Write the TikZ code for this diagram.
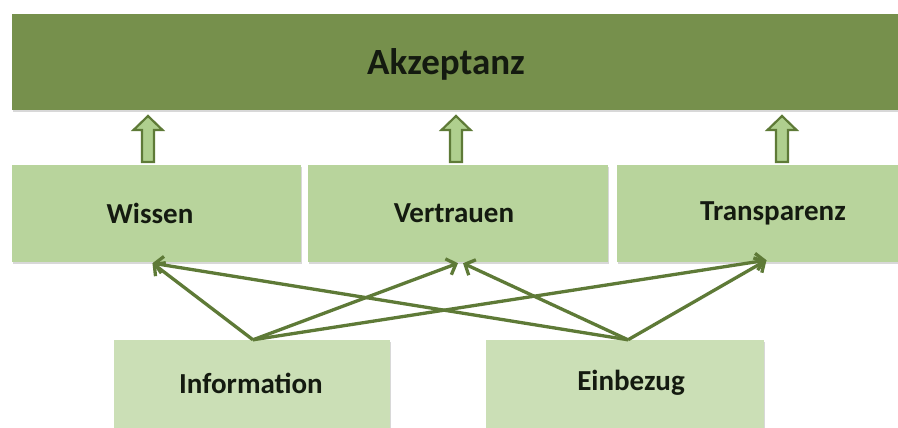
\documentclass[tikz,border=0pt]{standalone}
\usepackage{fontspec}
\setmainfont{Carlito}
\usetikzlibrary{arrows.meta,shadows,calc}
\definecolor{topgreen}{HTML}{76904C}
\definecolor{midgreen}{HTML}{B8D49C}
\definecolor{lowgreen}{HTML}{CBDFB6}
\definecolor{arrowfill}{HTML}{AFCF8E}
\definecolor{linegreen}{HTML}{5E7A37}
\definecolor{txt}{HTML}{141A10}
\tikzset{
  boxbase/.style={rectangle, inner sep=0pt, draw=none,
    drop shadow={shadow xshift=1pt, shadow yshift=-2pt, opacity=0.25, fill=black!60}},
  topbox/.style={boxbase, fill=topgreen},
  midbox/.style={boxbase, fill=midgreen, minimum height=97pt},
  lowbox/.style={boxbase, fill=lowgreen, minimum height=96pt},
  biglab/.style={font=\fontsize{37}{42}\selectfont\bfseries, text=txt, inner sep=0pt},
  lab/.style={font=\fontsize{29}{34}\selectfont\bfseries, text=txt, inner sep=0pt},
  fatarrow/.style={draw=linegreen, fill=arrowfill, line width=2.2pt, line join=miter},
  link/.style={draw=linegreen, line width=3.3pt, -{Straight Barb[length=8pt,width=17pt]}}
}
\begin{document}
\begin{tikzpicture}[x=1pt,y=-1pt]
\useasboundingbox (0,0) rectangle (898,428);
\fill[white] (0,0) rectangle (898,428);
% top box
\node[topbox, minimum width=888pt, minimum height=96pt] (akz) at (456,62) {};
\node[biglab] (akzl) at (446,64) {Akzeptanz};
% middle boxes
\node[midbox, minimum width=289pt] (wis) at (156.5,213.5) {};
\node[lab] (wisl) at (150,213) {Wissen};
\node[midbox, minimum width=300pt] (ver) at (458,213.5) {};
\node[lab] (verl) at (454,213) {Vertrauen};
\node[midbox, minimum width=281pt] (tra) at (757.5,213.5) {};
\node[lab] (tral) at (773,213) {Transparenz};
% bottom boxes
\node[lowbox, minimum width=276pt] (inf) at (252,388) {};
\node[lab] (infl) at (251,383) {Information};
\node[lowbox, minimum width=278pt] (ein) at (625,388) {};
\node[lab] (einl) at (631,383) {Einbezug};
% fat arrows
\foreach \cx in {148,456,782}{
  \draw[fatarrow] (\cx,116) -- (\cx+14.5,130) -- (\cx+6,130) -- (\cx+6,162)
     -- (\cx-6,162) -- (\cx-6,130) -- (\cx-14.5,130) -- cycle;
}
% links
\draw[link] ([xshift=1pt]inf.north) -- ([xshift=-4pt,yshift=-1pt]wis.south);
\draw[link] ([xshift=1pt]inf.north) -- ([yshift=-1pt]ver.south);
\draw[link] ([xshift=1pt]inf.north) -- ([xshift=9pt,yshift=2pt]tra.south);
\draw[link] ([xshift=3pt]ein.north) -- ([xshift=-4pt,yshift=-1pt]wis.south);
\draw[link] ([xshift=3pt]ein.north) -- ([xshift=5pt,yshift=-1pt]ver.south);
\draw[link] ([xshift=3pt]ein.north) -- ([xshift=9pt,yshift=2pt]tra.south);
\end{tikzpicture}
\end{document}
